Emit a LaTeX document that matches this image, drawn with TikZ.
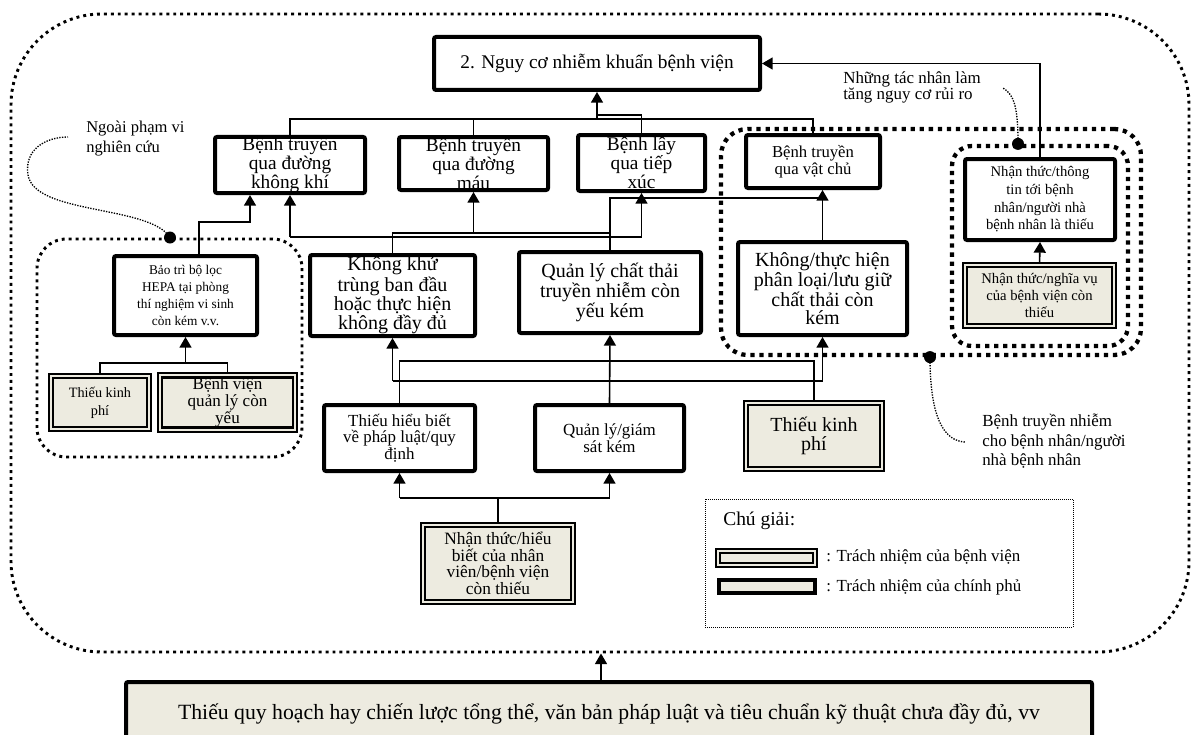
\documentclass[tikz,border=0pt]{standalone}
\usepackage{fontspec}
\setmainfont{Liberation Serif}
\usetikzlibrary{arrows.meta,backgrounds}
\definecolor{paper}{RGB}{237,235,224}
\tikzset{
  fs/.style 2 args={font=\fontsize{#1}{#2}\selectfont},
  % a rectangle given by its two corners, in pixel units
  span/.style n args={4}{at={({(#1+#3)/2},{(#2+#4)/2})},
    minimum width={(#3-#1)*0.75pt}, minimum height={(#4-#2)*0.75pt}},
  box/.style={draw, line width=3pt, fill=white, rounded corners=1.5pt,
    inner sep=0pt, align=center},
  govbox/.style={box, fill=paper},
  hospbox/.style={draw, fill=paper, line width=2.2pt, inner sep=0pt, align=center,
    preaction={draw, line width=7.6pt},
    preaction={draw=paper, line width=5.2pt}},
  wire/.style={line width=1.2pt},
  arrow/.style={wire, -{Triangle[length=8pt,width=9pt]}},
  zone/.style={draw, inner sep=0pt, line width=2.2pt, dash pattern=on 2.2pt off 3pt},
  boldzone/.style={draw, inner sep=0pt, line width=3.2pt, dash pattern=on 3.2pt off 3.6pt},
  dot/.style={circle, fill, inner sep=0pt, minimum size=9pt},
  note/.style={line width=1pt, dash pattern=on 1pt off 1pt},
  label/.style={inner sep=0pt, align=left, anchor=north west},
  legendframe/.style={draw, inner sep=0pt, line width=0.75pt, dash pattern=on 0.75pt off 0.75pt}
}
\begin{document}
\begin{tikzpicture}[x=0.75pt, y=-0.75pt]
\useasboundingbox (0,0) rectangle (1192,735);

% dotted regions
\node[zone, rounded corners=68pt, span={11}{14}{1189}{652}] (outer) {};
\node[zone, rounded corners=22pt, span={37}{239}{302}{457}] (leftgrp) {};
\node[boldzone, rounded corners=20pt, span={721}{129}{1141}{355}] (hostgrp) {};
\node[boldzone, rounded corners=15pt, span={952}{146}{1128}{346}] (infogrp) {};

% top
\node[box, fs={14.5}{16}, span={434}{37}{760}{90}] (title) {2. Nguy cơ nhiễm khuẩn bệnh viện};

% transmission routes
\node[box, fs={14.5}{13}, span={215}{139}{365}{191}] (b1) {Bệnh truyền\\qua đường\\không khí};
\node[box, fs={14.5}{13}, span={399}{137}{548}{190}] (b2) {Bệnh truyền\\qua đường\\máu};
\node[box, fs={14.5}{13}, span={578}{135}{705}{191}] (b3) {Bệnh lây\\qua tiếp\\xúc};
\node[box, fs={12.5}{12.5}, span={746}{135}{880}{188}] (b4) {Bệnh truyền\\qua vật chủ};

% causes
\node[box, fs={10}{12.75}, span={114}{256}{257}{335}] (bt) {Bảo trì bộ lọc\\HEPA tại phòng\\thí nghiệm vi sinh\\còn kém v.v.};
\node[box, fs={15}{12.5}, span={310}{255}{475}{336}] (kkt) {Không khử\\trùng ban đầu\\hoặc thực hiện\\không đầy đủ};
\node[box, fs={15}{12.5}, span={519}{252}{701}{333}] (qlct) {Quản lý chất thải\\truyền nhiễm còn\\yếu kém};
\node[box, fs={15}{13.5}, span={738}{242}{907}{335}] (kth) {Không/thực hiện\\phân loại/lưu giữ\\chất thải còn\\kém};
\node[box, fs={11}{13.3}, span={965}{159}{1115}{240}] (ntt) {Nhận thức/thông\\tin tới bệnh\\nhân/người nhà\\bệnh nhân là thiếu};
\node[hospbox, fs={11}{13}, span={967}{267}{1112}{324}] (ntn) {Nhận thức/nghĩa vụ\\của bệnh viện còn\\thiếu};

\node[hospbox, fs={10.7}{13.7}, span={53}{378}{147}{427}] (tkp1) {Thiếu kinh\\phí};
\node[hospbox, fs={12.8}{13}, span={162}{378}{293}{427}] (bvql) {Bệnh viện\\quản lý còn\\yếu};

\node[box, fs={12.7}{12.5}, span={324}{405}{475}{471}] (thb) {Thiếu hiểu biết\\về pháp luật/quy\\định};
\node[box, fs={12.7}{12.5}, span={535}{405}{684}{471}] (qlgs) {Quản lý/giám\\sát kém};
\node[hospbox, fs={15}{14}, span={748}{405}{880}{467}] (tkp2) {Thiếu kinh\\phí};
\node[hospbox, fs={13}{12.4}, span={425}{527}{571}{600}] (nthb) {Nhận thức/hiểu\\biết của nhân\\viên/bệnh viện\\còn thiếu};

\node[govbox, fs={16.3}{18}, span={126}{682}{1092}{745}] (base) {Thiếu quy hoạch hay chiến lược tổng thể, văn bản pháp luật và tiêu chuẩn kỹ thuật chưa đầy đủ, vv};
\coordinate (hit) at (outer.south -| 601,0);

% annotations
\node[dot] (dl) at (leftgrp.north -| 170,0) {};
\node[dot] (dh) at (hostgrp.south -| 930,0) {};
\node[dot] (di) at (infogrp.north -| 1018,0) {};
\node[label, fs={12.4}{15}] (ann1) at (86,121) {Ngoài phạm vi\\nghiên cứu};
\node[label, fs={12.7}{12.7}] (ann2) at (843,71) {Những tác nhân làm\\tăng nguy cơ rủi ro};
\node[label, fs={12.7}{14.6}] (ann3) at (982,414) {Bệnh truyền nhiễm\\cho bệnh nhân/người\\nhà bệnh nhân};
\coordinate (e1) at (68,137);
\coordinate (e2) at (1003,88);
\coordinate (e3) at (965,442);
\draw[note] (dl.center) .. controls (150,205) and (35,215) .. (28,175)
  .. controls (24,150) and (45,137) .. (e1);
\draw[note] (di.center) .. controls (1018,110) and (1015,95) .. (e2);
\draw[note] (dh.center) .. controls (930,420) and (945,441) .. (e3);

% legend
\node[legendframe, span={705}{499}{1073}{627}] (legend) {};
\node[inner sep=0pt, anchor=west, fs={14.6}{16}] (lgtitle) at (723,521) {Chú giải:};
\node[hospbox, span={720}{553}{813}{563}] (s1) {};
\node[govbox, line width=3.5pt, rounded corners=0pt, span={719}{580}{815}{593}] (s2) {};
\node[inner sep=0pt, anchor=west, fs={12.7}{14}] (l1) at (826,557) {: Trách nhiệm của bệnh viện};
\node[inner sep=0pt, anchor=west, fs={12.7}{14}] (l2) at (826,587) {: Trách nhiệm của chính phủ};

% connectors
\begin{scope}[on background layer]
\draw[wire] (b1.north) -- (b1.north |- 0,119) -- (b4.north |- 0,119) -- (b4.north);
\draw[wire] (b2.north) -- (b2.north |- 0,119);
\draw[wire] (b3.north) -- (b3.north |- 0,115) -- (title.south |- 0,115);
\draw[arrow] (title.south |- 0,119) -- (title.south);
\draw[arrow] (ntt.north) |- (title.east);
\draw[arrow] (ntn.north) -- (ntt.south);

\draw[arrow] (bt.north -| 199,0) |- (250,222) -- (b1.south -| 250,0);
\draw[arrow] (b1.south |- 0,237) -- (b1.south);
\draw[arrow] (b1.south |- 0,237) -- (b3.south |- 0,237) -- (b3.south);
\draw[wire] (kkt.north) -- (kkt.north |- 0,233) -- (qlct.north |- 0,233);
\draw[arrow] (b2.south |- 0,233) -- (b2.south);
\draw[wire] (qlct.north) -- (qlct.north |- 0,198) -- (kth.north |- 0,198);
\draw[arrow] (kth.north) -- (kth.north |- b4.south);

\draw[wire] (tkp1.north) -- (tkp1.north |- 0,363) -- (bvql.north |- 0,363) -- (bvql.north);
\draw[arrow] (bt.south |- 0,363) -- (bt.south);

\draw[arrow] (kkt.south |- 0,381) -- (kkt.south);
\draw[arrow] (kkt.south |- 0,381) -- (kth.south |- 0,381) -- (kth.south);
\draw[wire] (thb.north) -- (thb.north |- 0,361) -- (tkp2.north |- 0,361) -- (tkp2.north);
\draw[arrow] (qlgs.north) -- (qlct.south);

\draw[wire] (nthb.north) -- (nthb.north |- 0,498);
\draw[arrow] (thb.south |- 0,498) -- (thb.south);
\draw[arrow] (thb.south |- 0,498) -- (qlgs.south |- 0,498) -- (qlgs.south);

\draw[arrow] (base.north -| hit) -- (hit);
\end{scope}
\end{tikzpicture}
\end{document}
